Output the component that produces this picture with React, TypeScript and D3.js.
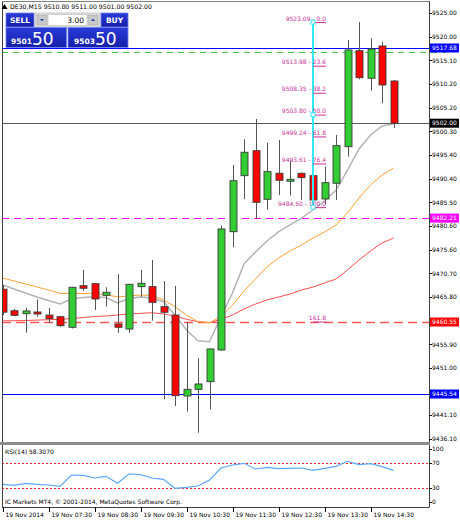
import React from "react";
import * as d3 from "d3";

// ---- data ----
const symbol = "DE30,M15";
const headerOHLC = ["9510.80", "9511.00", "9501.00", "9502.00"];

const opens = [9467.4, 9462.9, 9462.28, 9462.64, 9462.0, 9461.66, 9459.45, 9468.12, 9468.54, 9466.12, 9460.14, 9459.09, 9467.92, 9467.92, 9463.74, 9462.01, 9445.12, 9446.52, 9448.11, 9454.72, 9479.38, 9491.06, 9496.27, 9486.14, 9491.56, 9489.89, 9491.56, 9491.06, 9486.2, 9489.47, 9497.1, 9517.12, 9511.37, 9518.1, 9510.8];
const highs = [9468.3, 9463.3, 9463.5, 9465.28, 9463.5, 9461.8, 9467.9, 9471.4, 9468.6, 9467.79, 9470.56, 9468.5, 9471.4, 9473.48, 9469.1, 9468.06, 9460.62, 9453.0, 9455.0, 9480.63, 9493.29, 9498.65, 9502.88, 9497.94, 9498.5, 9494.18, 9491.7, 9491.2, 9492.93, 9499.54, 9519.35, 9523.09, 9519.71, 9519.0, 9511.0];
const lows = [9462.0, 9461.8, 9458.3, 9461.66, 9460.3, 9459.57, 9459.2, 9467.08, 9463.05, 9463.74, 9458.32, 9458.3, 9465.83, 9460.82, 9444.43, 9443.04, 9441.85, 9437.47, 9442.35, 9454.6, 9476.13, 9486.14, 9482.0, 9484.0, 9487.03, 9486.89, 9486.0, 9484.5, 9485.0, 9485.99, 9495.02, 9511.16, 9508.78, 9506.15, 9501.0];
const closes = [9462.6, 9461.95, 9462.85, 9462.22, 9461.24, 9459.78, 9467.79, 9467.58, 9465.35, 9466.75, 9459.45, 9468.41, 9468.62, 9464.66, 9462.58, 9445.19, 9446.52, 9447.63, 9454.93, 9479.95, 9490.01, 9495.94, 9485.51, 9491.9, 9490.1, 9490.31, 9490.64, 9485.99, 9489.6, 9497.31, 9517.26, 9511.49, 9517.48, 9509.97, 9502.0];

const maFast = [9468.27, 9467.43, 9466.6, 9465.76, 9465.03, 9464.3, 9465.35, 9465.66, 9465.82, 9465.66, 9464.51, 9465.45, 9465.76, 9465.55, 9464.78, 9462.01, 9458.88, 9456.65, 9456.44, 9461.66, 9466.6, 9472.64, 9475.15, 9477.44, 9479.32, 9480.78, 9482.23, 9483.9, 9485.78, 9488.07, 9492.24, 9496.62, 9499.54, 9501.42, 9501.83];
const maMid = [9469.72, 9469.1, 9468.47, 9467.85, 9467.22, 9466.53, 9466.49, 9466.49, 9466.53, 9466.18, 9465.82, 9465.97, 9466.18, 9466.08, 9465.14, 9463.74, 9462.01, 9460.61, 9460.4, 9461.66, 9464.09, 9467.01, 9469.52, 9472.02, 9473.89, 9475.35, 9476.61, 9478.06, 9479.32, 9480.78, 9483.28, 9486.41, 9489.12, 9491.2, 9492.66];
const maSlow = [9460.8, 9460.82, 9460.86, 9460.95, 9461.03, 9461.11, 9461.28, 9461.49, 9461.7, 9461.8, 9462.01, 9462.22, 9462.36, 9462.49, 9462.22, 9461.8, 9461.11, 9460.61, 9460.4, 9461.11, 9462.01, 9463.26, 9464.3, 9465.14, 9465.76, 9466.39, 9467.22, 9467.85, 9468.68, 9469.52, 9471.39, 9473.48, 9475.35, 9477.02, 9478.06];

const rsi = [35.9, 34.3, 37.5, 35.9, 34.8, 32.7, 50.8, 50.3, 46.0, 48.7, 37.5, 52.4, 51.3, 46.0, 43.9, 29.5, 31.1, 33.2, 42.8, 62.0, 66.8, 69.5, 60.4, 63.1, 60.9, 61.5, 62.0, 58.3, 61.5, 64.7, 72.7, 67.3, 68.9, 64.1, 58.307];

// tick labels visible on the price axis (9460.90 and 9446.10 sit under the coloured price tags)
const priceTicks = ["9525.00", "9520.00", "9515.10", "9510.20", "9505.20", "9500.30", "9495.40", "9490.40", "9485.50", "9480.60", "9475.60", "9470.70", "9465.80", "9455.90", "9451.00", "9441.10", "9436.10"];
const timeTickIndex = [0, 4, 8, 12, 16, 20, 24, 28, 32];
const timeTickLabels = ["19 Nov 2014", "19 Nov 07:30", "19 Nov 08:30", "19 Nov 09:30", "19 Nov 10:30", "19 Nov 11:30", "19 Nov 12:30", "19 Nov 13:30", "19 Nov 14:30"];

const rsiTicks = [100, 70, 30, 0];
const rsiLevels = [70, 30];

const fibHigh = 9523.09;
const fibLow = 9484.5;
const fibLevels = [0.0, 23.6, 38.2, 50.0, 61.8, 76.4, 100.0];
const fibPrices = ["9523.09", "9513.98", "9508.35", "9503.80", "9499.24", "9493.61", "9484.50"];
const fibExtLevel = 161.8;

const hLines = [
  { price: 9517.68, color: "#0000ff", dash: "", label: true, text: "#ffffff" },
  { price: 9516.75, color: "#3cc83c", dash: "6,5", label: false, text: "" },
  { price: 9502.0, color: "#5a5a5a", dash: "", label: true, text: "#ffffff", bg: "#000000" },
  { price: 9482.21, color: "#ff00ff", dash: "7,5", label: true, text: "#ffffff" },
  { price: 9460.55, color: "#ff5a5a", dash: "9,5", label: true, text: "#ffffff", bg: "#ff0000" },
  { price: 9445.54, color: "#0000ff", dash: "", label: true, text: "#ffffff" },
];

const sellPrice = ["9501", "50"];
const buyPrice = ["9503", "50"];
const lotSize = "3.00";

const FONT = "'DejaVu Sans', Verdana, sans-serif";

export default function App() {
  const plotL = 2;
  const plotR = 429;
  const x = d3.scaleLinear().domain([0, 34]).range([2.5, 393.5]);
  const y = d3.scaleLinear().domain([9517.68, 9445.54]).range([48, 394]);
  const ry = d3.scaleLinear().domain([0, 100]).range([506.75, 444.25]);

  const maLine = d3
    .line<number>()
    .x((_, i) => x(i))
    .y((d) => y(d));
  const rsiLine = d3
    .line<number>()
    .x((_, i) => x(i))
    .y((d) => ry(d));

  const fibX0 = 313;
  const fibX1 = 326;
  const fibLabelColor = "#cc3399";
  const range = fibHigh - fibLow;
  const extPrice = fibLow - (fibExtLevel / 100 - 1) * range;

  const bodyW = 7;

  return (
    <svg
      width={460}
      height={520}
      style={{ position: "absolute", left: 0, top: 0, background: "#ffffff" }}
      fontFamily={FONT}
    >
      <defs>
        <clipPath id="mainClip">
          <rect x={plotL + 0.5} y={1} width={plotR - plotL - 0.5} height={441} />
        </clipPath>
        <clipPath id="rsiClip">
          <rect x={plotL + 0.5} y={445} width={plotR - plotL - 0.5} height={62} />
        </clipPath>
        <linearGradient id="btnGrad" x1="0" y1="0" x2="0" y2="1">
          <stop offset="0" stopColor="#2a3ad8" />
          <stop offset="1" stopColor="#1420a8" />
        </linearGradient>
      </defs>
      <rect x={0} y={0} width={460} height={520} fill="#ffffff" />

      {/* horizontal lines */}
      <g>
        {hLines.map((h, i) => (
          <line
            key={i}
            x1={plotL}
            x2={h.label ? plotR : 446}
            y1={Math.round(y(h.price)) + 0.5}
            y2={Math.round(y(h.price)) + 0.5}
            stroke={h.color}
            strokeWidth={h.price === 9460.55 ? 1.4 : 1}
            strokeDasharray={h.dash || undefined}
          />
        ))}
      </g>

      {/* moving averages */}
      <g clipPath="url(#mainClip)" fill="none">
        <path d={maLine(maSlow) || ""} stroke="#ff3030" strokeWidth={1} strokeOpacity={0.85} />
        <path d={maLine(maMid) || ""} stroke="#ffa033" strokeWidth={1} />
        <path d={maLine(maFast) || ""} stroke="#b4b4b4" strokeWidth={1.5} />
      </g>

      {/* candles */}
      <g clipPath="url(#mainClip)">
        {opens.map((o, i) => {
          const c = closes[i];
          const cx = Math.round(x(i)) + 0.5;
          const top = y(Math.max(o, c));
          const bot = y(Math.min(o, c));
          const up = c >= o;
          return (
            <g key={i}>
              <line x1={cx} x2={cx} y1={y(highs[i])} y2={y(lows[i])} stroke="#555555" strokeWidth={1} />
              <rect
                x={cx - bodyW / 2}
                y={top}
                width={bodyW}
                height={Math.max(1.5, bot - top)}
                fill={up ? "#32cd32" : "#ff0000"}
                stroke="#3a3a3a"
                strokeWidth={0.9}
              />
            </g>
          );
        })}
      </g>

      {/* fibonacci */}
      <g>
        <line x1={fibX0} x2={fibX0} y1={y(fibHigh)} y2={y(fibLow)} stroke="#33e8f0" strokeWidth={2} />
        {fibLevels.map((lv, i) => {
          const p = fibHigh - (lv / 100) * range;
          const yy = y(p);
          return (
            <g key={i}>
              <line x1={fibX0} x2={fibX1} y1={yy + 0.5} y2={yy + 0.5} stroke={fibLabelColor} strokeWidth={1} />
              <text x={fibX1} y={yy - 1.5} fontSize={6} fill={fibLabelColor} textAnchor="end">
                {`${fibPrices[i]} - ${lv.toFixed(1)}`}
              </text>
            </g>
          );
        })}
        <line x1={fibX0} x2={fibX1} y1={y(extPrice) + 0.5} y2={y(extPrice) + 0.5} stroke={fibLabelColor} strokeWidth={1} />
        <text x={fibX1} y={y(extPrice) - 1.5} fontSize={6} fill={fibLabelColor} textAnchor="end">
          {fibExtLevel.toFixed(1)}
        </text>
        {[fibHigh, (fibHigh + fibLow) / 2, fibLow].map((p, i) => (
          <rect key={i} x={fibX0 - 2} y={y(p) - 2} width={4} height={4} fill="#ffffff" stroke="#33e8f0" strokeWidth={1} />
        ))}
      </g>

      {/* RSI panel */}
      <g>
        {rsiLevels.map((lv) => (
          <line
            key={lv}
            x1={plotL}
            x2={plotR}
            y1={Math.round(ry(lv)) + 0.5}
            y2={Math.round(ry(lv)) + 0.5}
            stroke="#ff2020"
            strokeWidth={1}
            strokeDasharray="2,2"
          />
        ))}
        <path d={rsiLine(rsi) || ""} fill="none" stroke="#5aa8ff" strokeWidth={1.2} clipPath="url(#rsiClip)" />
        <text x={5} y={454} fontSize={6} fill="#000">
          RSI(14) 58.3070
        </text>
        <text x={5} y={504} fontSize={6} fill="#000">
          IC Markets MT4, © 2001-2014, MetaQuotes Software Corp.
        </text>
      </g>

      {/* frame */}
      <g fill="none">
        <line x1={plotL + 0.5} x2={plotL + 0.5} y1={1} y2={507} stroke="#404040" />
        <line x1={plotL} x2={plotR} y1={1.5} y2={1.5} stroke="#808080" />
        <line x1={plotR + 0.5} x2={plotR + 0.5} y1={1} y2={507.5} stroke="#404040" />
        <line x1={plotL} x2={plotR} y1={507.5} y2={507.5} stroke="#404040" />
        <line x1={0} x2={plotR + 1} y1={443.5} y2={443.5} stroke="#8c8c8c" strokeWidth={3} />
      </g>

      {/* price axis */}
      <g fontSize={6} fill="#000">
        {priceTicks.map((t) => {
          const yy = y(parseFloat(t));
          return (
            <g key={t}>
              <line x1={plotR} x2={plotR + 3} y1={Math.round(yy) + 0.5} y2={Math.round(yy) + 0.5} stroke="#000" />
              <text x={432} y={yy + 2.2}>
                {t}
              </text>
            </g>
          );
        })}
        {hLines
          .filter((h) => h.label)
          .map((h, i) => {
            const yy = y(h.price);
            return (
              <g key={i}>
                <rect x={plotR + 1} y={yy - 4.5} width={29} height={9} fill={h.bg || h.color} />
                <text x={432} y={yy + 2.2} fill={h.text}>
                  {h.price.toFixed(2)}
                </text>
              </g>
            );
          })}
        {rsiTicks.map((t) => {
          const yy = Math.min(Math.max(ry(t), 449), 502);
          return (
            <g key={t}>
              <line x1={plotR} x2={plotR + 3} y1={Math.round(yy) + 0.5} y2={Math.round(yy) + 0.5} stroke="#000" />
              <text x={432} y={yy + 2.2}>
                {t}
              </text>
            </g>
          );
        })}
      </g>

      {/* time axis */}
      <g fontSize={6} fill="#000">
        {timeTickIndex.map((ti, k) => {
          const xx = Math.round(x(ti)) + 0.5;
          return (
            <g key={ti}>
              <line x1={xx} x2={xx} y1={507} y2={512} stroke="#000" />
              <text x={xx + 2} y={516.5}>
                {timeTickLabels[k]}
              </text>
            </g>
          );
        })}
      </g>

      {/* header */}
      <g>
        <path d="M1.5,9 L4.5,4 L7.5,9 Z" fill="#000" />
        <text x={10} y={9} fontSize={6.2} fill="#000">
          {symbol}
          {"  "}
          {headerOHLC.join(" ")}
        </text>
      </g>

      {/* one-click trading panel */}
      <g fontFamily={FONT}>
        <rect x={6} y={13} width={28} height={14} fill="url(#btnGrad)" stroke="#7080f0" strokeWidth={0.8} />
        <text x={20} y={23} fontSize={7.5} fontWeight="bold" fill="#fff" textAnchor="middle">
          SELL
        </text>
        <rect x={35} y={13} width={65} height={14} fill="#e4e4e4" stroke="#b0b0b0" strokeWidth={0.6} />
        <rect x={37} y={15} width={10} height={10} fill="#c8c8c8" stroke="#a0a0a0" strokeWidth={0.5} />
        <path d="M40,19 L44,19 L42,21.5 Z" fill="#3040a0" />
        <rect x={48} y={14.5} width={39} height={11} fill="#ffffff" stroke="#b0b0b0" strokeWidth={0.5} />
        <text x={84} y={23} fontSize={7.5} fill="#000" textAnchor="end">
          {lotSize}
        </text>
        <rect x={88} y={15} width={10} height={10} fill="#c8c8c8" stroke="#a0a0a0" strokeWidth={0.5} />
        <path d="M91,21 L95,21 L93,18.5 Z" fill="#3040a0" />
        <rect x={101} y={13} width={27} height={14} fill="url(#btnGrad)" stroke="#7080f0" strokeWidth={0.8} />
        <text x={114.5} y={23} fontSize={7.5} fontWeight="bold" fill="#fff" textAnchor="middle">
          BUY
        </text>
        <rect x={6} y={27.5} width={60.5} height={20} fill="url(#btnGrad)" stroke="#7080f0" strokeWidth={0.8} />
        <text x={11} y={43.5} fontSize={7.5} fontWeight="bold" fill="#fff">
          {sellPrice[0]}
        </text>
        <text x={32} y={45} fontSize={17} fill="#fff">
          {sellPrice[1]}
        </text>
        <rect x={68} y={27.5} width={60} height={20} fill="url(#btnGrad)" stroke="#7080f0" strokeWidth={0.8} />
        <text x={74} y={43.5} fontSize={7.5} fontWeight="bold" fill="#fff">
          {buyPrice[0]}
        </text>
        <text x={95} y={45} fontSize={17} fill="#fff">
          {buyPrice[1]}
        </text>
      </g>
    </svg>
  );
}
